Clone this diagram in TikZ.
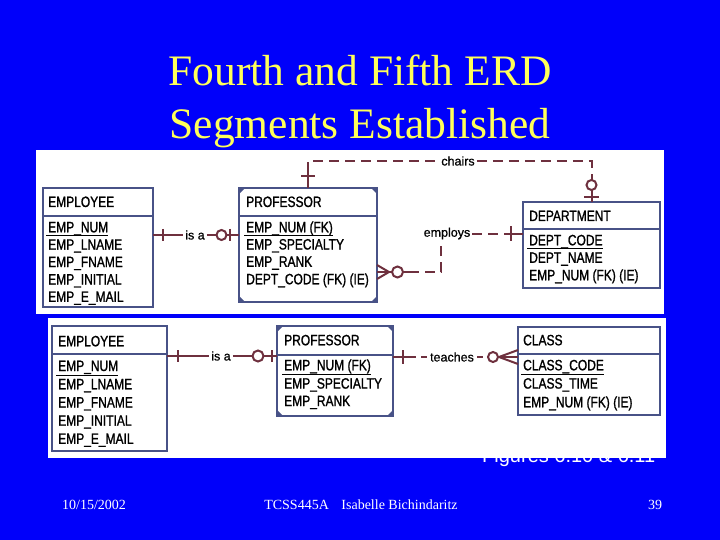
\documentclass[tikz,border=0pt]{standalone}
\usepackage{fontspec}
\setmainfont{Liberation Serif}
\newfontfamily\erdfont[FakeStretch=0.8,FakeBold=1.2]{Liberation Sans}
\newfontfamily\lblfont[FakeBold=0.8]{Liberation Sans}
\newfontfamily\capfont{Liberation Sans}
\definecolor{bgblue}{RGB}{0,0,250}
\definecolor{ttlyellow}{RGB}{255,255,90}
\definecolor{boxc}{RGB}{72,82,135}
\definecolor{connc}{RGB}{110,48,62}
\begin{document}
\begin{tikzpicture}[x=1pt,y=-1pt,
  entbox/.style={draw=boxc, line width=2pt, fill=white, inner sep=0pt, outer sep=0pt, anchor=north west},
  sepline/.style={draw=boxc, line width=2pt},
  attr/.style={anchor=base west, inner sep=0pt, font=\erdfont\fontsize{15}{17}\selectfont, text=black},
  pk/.style={draw=black, line width=1.2pt},
  conn/.style={draw=connc, line width=2pt},
  dconn/.style={conn, dash pattern=on 10pt off 6pt},
  rel/.style={inner sep=2pt, font=\lblfont\fontsize{12.5}{14}\selectfont, text=black},
  ttl/.style={anchor=base, inner sep=0pt, text=ttlyellow, font=\fontsize{43.5}{50}\selectfont},
  foot/.style={anchor=base, inner sep=0pt, text=white, font=\fontsize{14}{16}\selectfont}
]
\useasboundingbox (0,0) rectangle (720,540);
\fill[bgblue] (0,0) rectangle (720,540);

% title
\node[ttl] (t1) at (360,86) {Fourth and Fifth ERD};
\node[ttl] (t2) at (360,138.5) {Segments Established};

% caption (partly hidden by the lower panel)
\node[anchor=base west, inner sep=0pt, text=white, font=\capfont\fontsize{20}{24}\selectfont] (cap) at (482,462) {Figures 6.10 \& 6.11};

% panels
\fill[white] (36,150) rectangle (664,314);
\fill[white] (48,318) rectangle (666,458);

% ---------- top diagram ----------
\node[entbox, minimum width=110pt, minimum height=119pt] (emp1) at (43,188) {};
\draw[sepline] ([yshift=-28pt]emp1.north west) -- ([yshift=-28pt]emp1.north east);
\node[attr] (emp1t) at (48,207) {EMPLOYEE};
\node[attr] (emp1r1) at (48,232.3) {EMP\_NUM};
\node[attr] (emp1r2) at (48,249.7) {EMP\_LNAME};
\node[attr] (emp1r3) at (48,267.1) {EMP\_FNAME};
\node[attr] (emp1r4) at (48,284.5) {EMP\_INITIAL};
\node[attr] (emp1r5) at (48,301.9) {EMP\_E\_MAIL};
\draw[pk] ([xshift=-2pt,yshift=-3pt]emp1r1.base west) -- ([yshift=-3pt]emp1r1.base east);

\node[entbox, minimum width=138pt, minimum height=114pt] (prof1) at (239,188) {};
\draw[sepline] ([yshift=-28pt]prof1.north west) -- ([yshift=-28pt]prof1.north east);
\node[attr] (prof1t) at (246,207) {PROFESSOR};
\node[attr] (prof1r1) at (246,232.3) {EMP\_NUM (FK)};
\node[attr] (prof1r2) at (246,249.5) {EMP\_SPECIALTY};
\node[attr] (prof1r3) at (246,266.8) {EMP\_RANK};
\node[attr] (prof1r4) at (246,284.3) {DEPT\_CODE (FK) (IE)};
\draw[pk] ([xshift=-2pt,yshift=-3pt]prof1r1.base west) -- ([yshift=-3pt]prof1r1.base east);

\node[entbox, minimum width=137pt, minimum height=86pt] (dept1) at (523,202) {};
\draw[sepline] ([yshift=-27pt]dept1.north west) -- ([yshift=-27pt]dept1.north east);
\node[attr] (dept1t) at (529,221) {DEPARTMENT};
\node[attr] (dept1r1) at (529,245.3) {DEPT\_CODE};
\node[attr] (dept1r2) at (529,262.8) {DEPT\_NAME};
\node[attr] (dept1r3) at (529,280.3) {EMP\_NUM (FK) (IE)};
\draw[pk] ([xshift=-2pt,yshift=-3.5pt]dept1r1.base west) -- ([yshift=-3.5pt]dept1r1.base east);

% ---------- bottom diagram ----------
\node[entbox, minimum width=115pt, minimum height=125pt] (emp2) at (52,326) {};
\draw[sepline] ([yshift=-28pt]emp2.north west) -- ([yshift=-28pt]emp2.north east);
\node[attr] (emp2t) at (58,346.3) {EMPLOYEE};
\node[attr] (emp2r1) at (58,371) {EMP\_NUM};
\node[attr] (emp2r2) at (58,389.3) {EMP\_LNAME};
\node[attr] (emp2r3) at (58,407.5) {EMP\_FNAME};
\node[attr] (emp2r4) at (58,425.7) {EMP\_INITIAL};
\node[attr] (emp2r5) at (58,443.9) {EMP\_E\_MAIL};
\draw[pk] ([xshift=-2pt,yshift=-4.5pt]emp2r1.base west) -- ([yshift=-4.5pt]emp2r1.base east);

\node[entbox, minimum width=116pt, minimum height=90pt] (prof2) at (277,326) {};
\draw[sepline] ([yshift=-29pt]prof2.north west) -- ([yshift=-29pt]prof2.north east);
\node[attr] (prof2t) at (284,345.3) {PROFESSOR};
\node[attr] (prof2r1) at (284,370.3) {EMP\_NUM (FK)};
\node[attr] (prof2r2) at (284,388.6) {EMP\_SPECIALTY};
\node[attr] (prof2r3) at (284,406.1) {EMP\_RANK};
\draw[pk] ([xshift=-2pt,yshift=-4pt]prof2r1.base west) -- ([yshift=-4pt]prof2r1.base east);

\node[entbox, minimum width=142pt, minimum height=88pt] (class2) at (518,327) {};
\draw[sepline] ([yshift=-27.3pt]class2.north west) -- ([yshift=-27.3pt]class2.north east);
\node[attr] (class2t) at (523,345.3) {CLASS};
\node[attr] (class2r1) at (523,370.3) {CLASS\_CODE};
\node[attr] (class2r2) at (523,388.6) {CLASS\_TIME};
\node[attr] (class2r3) at (523,407.3) {EMP\_NUM (FK) (IE)};
\draw[pk] ([xshift=-2pt,yshift=-4.5pt]class2r1.base west) -- ([yshift=-4.5pt]class2r1.base east);

% corner marks of the dependent entities
\foreach \n in {prof1,prof2} {
  \fill[boxc] (\n.north west) -- ++(6,0) -- ++(-6,6) -- cycle;
  \fill[boxc] (\n.north east) -- ++(-6,0) -- ++(6,6) -- cycle;
  \fill[boxc] (\n.south west) -- ++(6,0) -- ++(-6,-6) -- cycle;
  \fill[boxc] (\n.south east) -- ++(-6,0) -- ++(6,-6) -- cycle;
}

% ---------- top connectors ----------
% is a
\node[rel] (isa1) at (195,235) {is a};
\draw[conn] (emp1.east |- isa1) -- (isa1.west);
\draw[conn] (isa1.east) -- (prof1.west |- isa1);
\draw[conn] (163,229) -- (163,241);
\draw[conn] (230,229) -- (230,241);
\draw[conn, fill=white] (221.5,235) circle (5);

% chairs
\node[rel] (chairs) at (458,161) {chairs};
\draw[dconn] (prof1.north) |- (chairs.west);
\draw[dconn] (chairs.east) -| (dept1.north);
\draw[conn] (prof1.north) -- ++(0,-18);
\draw[conn] (301,176) -- (315,176);
\draw[conn] (dept1.north) -- ++(0,-28);
\draw[conn] (584,197) -- (599,197);
\draw[conn, fill=white] (591.5,185) circle (5);

% employs
\node[rel] (employs) at (447,233.5) {employs};
\draw[dconn] ([yshift=30pt]prof1.south east) -| ([xshift=-6pt]employs.south);
\draw[conn] ([yshift=30pt]prof1.south east) -- ++(34,0);
\draw[conn] (377,265) -- (389,272) -- (377,279);
\draw[conn, fill=white] (397.5,272) circle (5.5);
\draw[dconn] (employs.east) -- (dept1.west |- employs);
\draw[conn] (505,233.5) -- (dept1.west |- employs);
\draw[conn] (511,226.5) -- (511,240.5);

% ---------- bottom connectors ----------
% is a
\node[rel] (isa2) at (221,356) {is a};
\draw[conn] (emp2.east |- isa2) -- (isa2.west);
\draw[conn] (isa2.east) -- (prof2.west |- isa2);
\draw[conn] (178,350) -- (178,362);
\draw[conn] (271.5,350) -- (271.5,362);
\draw[conn, fill=white] (258,356) circle (5.5);

% teaches
\node[rel] (teaches) at (452,357) {teaches};
\draw[conn] (prof2.east |- teaches) -- ++(23,0);
\draw[conn] (403,350) -- (403,364);
\draw[conn] (421,357) -- (427,357);
\draw[conn] (477,357) -- (483,357);
\draw[conn] (498,357) -- (class2.west |- teaches);
\draw[conn] (518,350) -- (499,357) -- (518,364);
\draw[conn, fill=white] (493,357) circle (5);

% ---------- footer ----------
\node[foot] (date) at (94,509) {10/15/2002};
\node[foot] (auth) at (361,509) {TCSS445A\hspace{0.9em}Isabelle Bichindaritz};
\node[foot] (page) at (655,509) {39};
\end{tikzpicture}
\end{document}
